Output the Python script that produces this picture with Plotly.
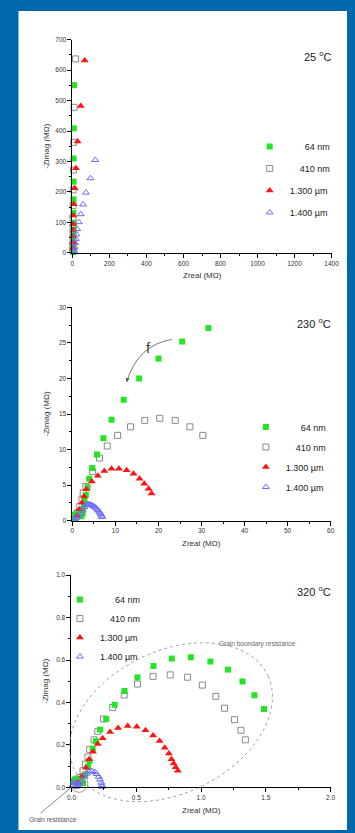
import numpy as np
import plotly.graph_objects as go

W, H = 355, 833
BLUE = '#0068ad'
FONT = 'Liberation Sans, Arial, sans-serif'

names = ['64 nm', '410 nm', '1.300 µm', '1.400 µm']
labels_pad = ['\u2007\u2007\u2008 64 nm', '\u2007\u2008 410 nm', '1.300 µm', '1.400 µm']

# ---------- Panel 1 : 25 °C ----------
p1_64_x = [8, 7, 6, 6, 5, 5, 5, 5, 4, 4, 4, 4, 3, 3, 3]
p1_64_y = [551, 409, 310, 234, 176, 131, 99, 77, 60, 46, 34, 24, 15, 8, 3]
p1_410_x = [17, 9, 7, 5, 4, 4, 3, 3, 3, 3, 2, 2]
p1_410_y = [637, 478, 363, 272, 207, 155, 115, 85, 60, 38, 20, 8]
p1_1300_x = [66, 45, 28, 19, 12, 7, 5, 5, 4, 4, 3, 3]
p1_1300_y = [632, 482, 366, 278, 212, 160, 123, 95, 75, 55, 35, 15]
p1_1400_x = [123, 97, 73, 57, 45, 34, 26, 21, 18, 15, 12, 10, 8]
p1_1400_y = [305, 245, 198, 159, 127, 101, 78, 61, 46, 32, 18, 7, 2]

# ---------- Panel 2 : 230 °C ----------
p2_64_x = [31.6, 25.5, 20.0, 15.5, 11.9, 9.1, 7.2, 5.7, 4.6, 3.9, 3.5, 3.1, 2.8, 2.7,
           2.5, 2.4, 2.1, 1.7, 1.3, 0.9, 0.5, 0.3]
p2_64_y = [27.1, 25.2, 22.8, 20.0, 17.0, 14.2, 11.6, 9.3, 7.4, 5.9, 4.7, 3.6, 2.9, 2.3,
           1.6, 1.0, 0.6, 0.7, 0.9, 1.0, 0.8, 0.3]
p2_410_x = [30.3, 27.3, 23.9, 20.3, 16.8, 13.5, 10.5, 8.1, 6.3, 4.7, 3.1, 2.5, 2.2, 1.7, 1.2, 0.7]
p2_410_y = [12.0, 13.2, 14.1, 14.4, 14.1, 13.2, 12.0, 10.5, 8.8, 6.9, 4.8, 3.9, 3.0, 2.0, 1.1, 0.4]
p2_1300_x = [18.4, 17.7, 16.7, 15.6, 14.2, 12.6, 10.8, 9.1, 7.4, 5.9, 4.5, 3.2, 2.7, 2.2, 1.6, 1.0]
p2_1300_y = [3.8, 4.5, 5.2, 5.9, 6.6, 7.1, 7.3, 7.3, 7.0, 6.3, 5.5, 4.4, 3.4, 2.5, 1.6, 0.7]
p2_1400_x = [3.2, 3.5, 3.8, 4.1, 4.4, 4.7, 5.0, 5.3, 5.6, 5.9, 6.2, 6.4, 6.6, 6.8, 6.9,
             2.8, 2.3, 1.8, 1.3, 0.8, 0.4]
p2_1400_y = [2.25, 2.3, 2.3, 2.25, 2.2, 2.1, 2.0, 1.85, 1.7, 1.5, 1.3, 1.1, 0.9, 0.7, 0.5,
             1.9, 1.4, 1.0, 0.6, 0.35, 0.15]

# ---------- Panel 3 : 320 °C ----------
p3_64_x = [1.486, 1.412, 1.320, 1.208, 1.072, 0.921, 0.774, 0.633, 0.509, 0.409, 0.333,
           0.268, 0.221, 0.189, 0.164, 0.139, 0.127, 0.107, 0.089, 0.07, 0.05, 0.03, 0.015]
p3_64_y = [0.369, 0.434, 0.499, 0.555, 0.593, 0.613, 0.607, 0.572, 0.518, 0.454, 0.389,
           0.322, 0.272, 0.218, 0.182, 0.124, 0.096, 0.062, 0.020, 0.035, 0.04, 0.038, 0.03]
p3_410_x = [1.342, 1.308, 1.258, 1.181, 1.114, 1.010, 0.896, 0.762, 0.630, 0.509, 0.407,
            0.318, 0.248, 0.203, 0.174, 0.141, 0.127, 0.107, 0.089, 0.074, 0.057, 0.037]
p3_410_y = [0.224, 0.269, 0.319, 0.373, 0.429, 0.482, 0.519, 0.530, 0.523, 0.487, 0.435,
            0.376, 0.322, 0.264, 0.224, 0.179, 0.143, 0.109, 0.078, 0.047, 0.023, 0.009]
p3_1300_x = [0.821, 0.804, 0.789, 0.772, 0.752, 0.720, 0.680, 0.630, 0.571, 0.504, 0.434,
             0.360, 0.298, 0.241, 0.203, 0.166, 0.136, 0.112, 0.082, 0.052]
p3_1300_y = [0.078, 0.095, 0.112, 0.132, 0.159, 0.187, 0.219, 0.244, 0.269, 0.286, 0.289,
             0.280, 0.261, 0.232, 0.204, 0.168, 0.132, 0.093, 0.054, 0.023]
p3_1400_x = [0.08, 0.10, 0.12, 0.14, 0.16, 0.18, 0.195, 0.21, 0.22, 0.23, 0.235, 0.238,
             0.01, 0.02, 0.03, 0.04, 0.05, 0.06]
p3_1400_y = [0.03, 0.05, 0.065, 0.075, 0.077, 0.072, 0.063, 0.05, 0.037, 0.022, 0.01, 0.003,
             0.01, 0.02, 0.025, 0.02, 0.012, 0.018]

# axis settings per panel
x_ranges = [[0, 1400], [0, 60], [0, 2]]
y_ranges = [[0, 700], [0, 30], [0, 1.0]]
x_dticks = [200, 10, 0.5]
y_dticks = [100, 5, 0.2]
x_fmt = ['d', 'd', '.1f']
y_fmt = ['d', 'd', '.1f']
temps = ['25 <sup>o</sup>C', '230 <sup>o</sup>C', '320 <sup>o</sup>C']

# pixel boxes of the three plot areas: (left, right, top, bottom)
boxes = [(70, 339, 36, 251), (70, 338, 306, 521), (69, 338, 576, 790)]

def px2paper_x(px):
    return px / W

def px2paper_y(py):
    return 1 - py / H

styles = [
    dict(symbol='square', size=6, color='#22e622', line=dict(width=0)),
    dict(symbol='square-open', size=6, color='#8a8a8a', line=dict(width=1)),
    dict(symbol='triangle-up', size=7, color='#ff1414', line=dict(width=0)),
    dict(symbol='triangle-up-open', size=6, color='#6b6bff', line=dict(width=1)),
]

panels = [
    [(p1_64_x, p1_64_y), (p1_410_x, p1_410_y), (p1_1300_x, p1_1300_y), (p1_1400_x, p1_1400_y)],
    [(p2_64_x, p2_64_y), (p2_410_x, p2_410_y), (p2_1300_x, p2_1300_y), (p2_1400_x, p2_1400_y)],
    [(p3_64_x, p3_64_y), (p3_410_x, p3_410_y), (p3_1300_x, p3_1300_y), (p3_1400_x, p3_1400_y)],
]
draw_order = [1, 0, 2, 3]
legend_names = ['legend', 'legend2', 'legend3']

fig = go.Figure()
for p in range(3):
    ax = '' if p == 0 else str(p + 1)
    for k in draw_order:
        xs, ys = panels[p][k]
        fig.add_trace(go.Scatter(
            x=xs, y=ys, mode='markers', name=labels_pad[k],
            marker=styles[k], xaxis='x' + ax, yaxis='y' + ax,
            legend=legend_names[p], legendrank=k + 1, legendgroup=f'g{p}{k}',
            cliponaxis=False,
        ))

layout = dict(
    width=W, height=H, margin=dict(l=0, r=0, t=0, b=0),
    paper_bgcolor=BLUE, plot_bgcolor='white',
    font=dict(family=FONT, color='#222'),
    showlegend=True,
)

tickfont = dict(family=FONT, size=6.5, color='#333')
shapes = [dict(type='rect', xref='paper', yref='paper', x0=14 / W, x1=1, y0=0, y1=1 - 7 / H,
               fillcolor='white', line=dict(width=0), layer='below')]
annotations = []

for p in range(3):
    l, r, t, b = boxes[p]
    xd = [px2paper_x(l), px2paper_x(r)]
    yd = [px2paper_y(b), px2paper_y(t)]
    n = p + 1
    xa = 'xaxis' if p == 0 else f'xaxis{n}'
    ya = 'yaxis' if p == 0 else f'yaxis{n}'
    xid = 'x' if p == 0 else f'x{n}'
    yid = 'y' if p == 0 else f'y{n}'
    common = dict(showgrid=False, zeroline=False, showline=True, linecolor='black', linewidth=1,
                  tickcolor='black', tickwidth=1, tickfont=tickfont)
    layout[xa] = dict(domain=xd, range=x_ranges[p], anchor=yid, dtick=x_dticks[p], tick0=0,
                      ticks='outside', ticklen=4, tickformat=x_fmt[p],
                      minor=dict(ticks='outside', ticklen=2, dtick=x_dticks[p] / 2, tickcolor='black'),
                      **common)
    layout[ya] = dict(domain=yd, range=y_ranges[p], anchor=xid, dtick=y_dticks[p], tick0=0,
                      ticks='outside', ticklen=4, tickformat=y_fmt[p],
                      minor=dict(ticks='outside', ticklen=2, dtick=y_dticks[p] / 2, tickcolor='black'),
                      **common)
    # mirrored axes with inward ticks (top and right)
    m = 4 + p
    layout[f'xaxis{m}'] = dict(domain=xd, range=x_ranges[p], anchor=yid, overlaying=xid, side='top',
                               dtick=x_dticks[p], tick0=0, ticks='inside', ticklen=3,
                               showticklabels=False,
                               minor=dict(ticks='inside', ticklen=2, dtick=x_dticks[p] / 2, tickcolor='black'),
                               showgrid=False, zeroline=False, showline=True, linecolor='black',
                               linewidth=1, tickcolor='black')
    layout[f'yaxis{m}'] = dict(domain=yd, range=y_ranges[p], anchor=xid, overlaying=yid, side='right',
                               dtick=y_dticks[p], tick0=0, ticks='inside', ticklen=3,
                               showticklabels=False,
                               minor=dict(ticks='inside', ticklen=2, dtick=y_dticks[p] / 2, tickcolor='black'),
                               showgrid=False, zeroline=False, showline=True, linecolor='black',
                               linewidth=1, tickcolor='black')
    # axis titles
    annotations.append(dict(xref='paper', yref='paper', x=px2paper_x((l + r) / 2), y=px2paper_y(b + 23),
                            text='Zreal (MΩ)', showarrow=False, font=dict(size=8, color='#333'),
                            xanchor='center', yanchor='middle'))
    annotations.append(dict(xref='paper', yref='paper', x=px2paper_x(l - 27), y=px2paper_y((t + b) / 2),
                            text='-Zimag (MΩ)', showarrow=False, textangle=-90,
                            font=dict(size=8, color='#333'), xanchor='center', yanchor='middle'))
    # temperature
    annotations.append(dict(xref='paper', yref='paper', x=px2paper_x(r + 2), y=px2paper_y(t + 16),
                            text=temps[p], showarrow=False, font=dict(size=11, color='#222'),
                            xanchor='right', yanchor='middle'))

# legends
leg_common = dict(bgcolor='rgba(0,0,0,0)', font=dict(size=9, color='#222', family=FONT),
                  traceorder='grouped', xanchor='left', yanchor='top', itemclick=False)
layout['legend'] = dict(x=px2paper_x(254), y=px2paper_y(129), tracegroupgap=3, **leg_common)
layout['legend2'] = dict(x=px2paper_x(250), y=px2paper_y(412), tracegroupgap=1, **leg_common)
layout['legend3'] = dict(x=px2paper_x(57), y=px2paper_y(586), tracegroupgap=0, **leg_common)

# curved arrow "f" in panel 2
shapes.append(dict(type='path', xref='x2', yref='y2', path='M 23.1,25.5 Q 15.15,24.7 12.6,19.5',
                   line=dict(color='#555', width=0.8)))
annotations.append(dict(xref='x2', yref='y2', x=12.6, y=19.5, ax=12.9, ay=20.2, axref='x2', ayref='y2',
                        text='', showarrow=True, arrowhead=2, arrowsize=1, arrowwidth=0.8,
                        arrowcolor='#555'))
annotations.append(dict(xref='x2', yref='y2', x=17.6, y=24.3, text='f', showarrow=False,
                        font=dict(size=15, color='#444')))

# dashed ellipse (grain boundary resistance) in pixel space -> paper
cx, cy, a_px, b_px, ang = 172.3, 724.3, 111.0, 72.0, np.deg2rad(24.5)
t = np.linspace(0, 2 * np.pi, 120)
ex = cx + a_px * np.cos(t) * np.cos(ang) - b_px * np.sin(t) * np.sin(ang)
ey = cy - (a_px * np.cos(t) * np.sin(ang) + b_px * np.sin(t) * np.cos(ang))
path = 'M ' + ' L '.join(f'{px2paper_x(u):.5f},{px2paper_y(v):.5f}' for u, v in zip(ex, ey)) + ' Z'
shapes.append(dict(type='path', xref='paper', yref='paper', path=path,
                   line=dict(color='#888', width=0.8, dash='dot')))
annotations.append(dict(xref='paper', yref='paper', x=px2paper_x(220), y=px2paper_y(645),
                        text='Grain boundary resistance', showarrow=False, xanchor='left',
                        yanchor='middle', font=dict(size=6.5, color='#666')))

# small circle: grain resistance
shapes.append(dict(type='circle', xref='paper', yref='paper', x0=px2paper_x(68), x1=px2paper_x(86),
                   y0=px2paper_y(795), y1=px2paper_y(777), line=dict(color='#777', width=0.7)))
shapes.append(dict(type='line', xref='paper', yref='paper', x0=px2paper_x(70), y0=px2paper_y(789),
                   x1=px2paper_x(37), y1=px2paper_y(816), line=dict(color='#555', width=0.7)))
annotations.append(dict(xref='paper', yref='paper', x=px2paper_x(23), y=px2paper_y(822),
                        text='Grain resistance', showarrow=False, xanchor='left', yanchor='middle',
                        font=dict(size=6.5, color='#555')))

layout['shapes'] = shapes
layout['annotations'] = annotations
fig.update_layout(**layout)
fig.write_html('out.html', config={'displayModeBar': False},
               post_script="document.body.style.margin='0';document.body.style.background='%s';" % BLUE)
